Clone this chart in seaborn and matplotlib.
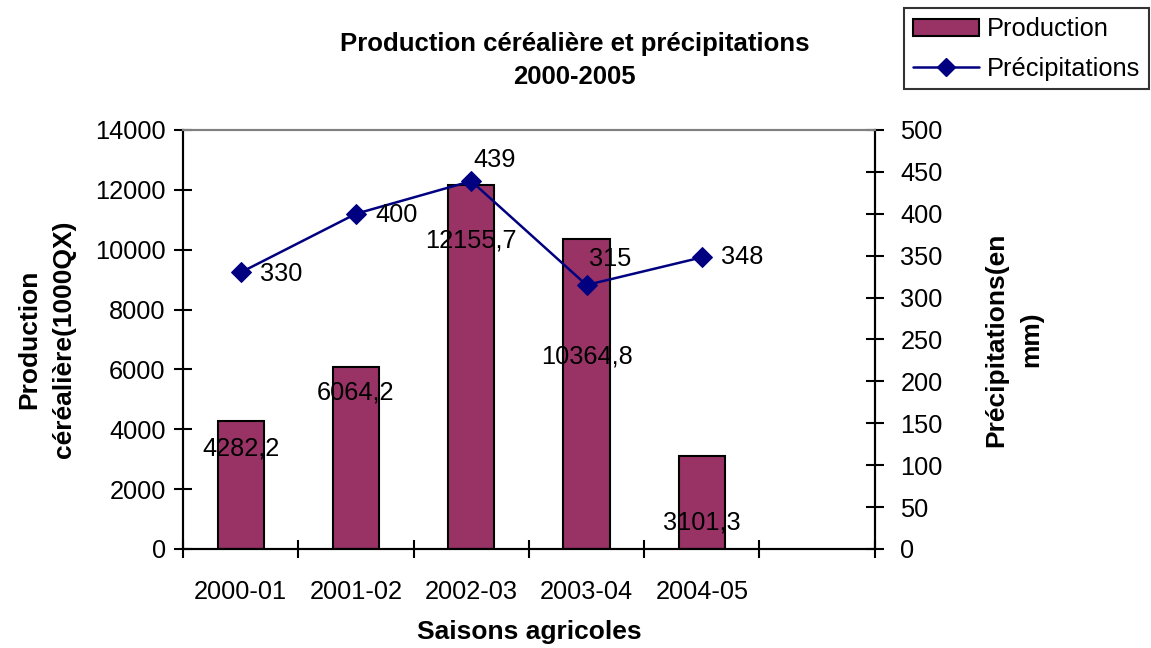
import numpy as np
import pandas as pd
import seaborn as sns
import matplotlib.pyplot as plt
from matplotlib.patches import Patch
from matplotlib.lines import Line2D

seasons = ["2000-01", "2001-02", "2002-03", "2003-04", "2004-05"]
production = [4282.2, 6064.2, 12155.7, 10364.8, 3101.3]
precipitations = [330, 400, 439, 315, 348]
production_labels = ["4282,2", "6064,2", "12155,7", "10364,8", "3101,3"]
precip_labels = ["330", "400", "439", "315", "348"]

BAR_COLOR = "#993366"
LINE_COLOR = "#000080"

sns.set_theme(style="white")
plt.rcParams['font.family'] = ['Liberation Sans', 'DejaVu Sans']
plt.rcParams['text.color'] = 'black'
plt.rcParams['axes.labelcolor'] = 'black'
plt.rcParams['xtick.color'] = 'black'
plt.rcParams['ytick.color'] = 'black'

FS = 18.3
BFS = 19

df = pd.DataFrame({"season": seasons, "production": production,
                   "precip": precipitations, "pos": np.arange(len(seasons))})

fig = plt.figure(figsize=(11.51, 6.48), dpi=100)
ax1 = fig.add_axes([0.159, 0.1528, 0.601, 0.6466])
ax2 = ax1.twinx()

sns.barplot(data=df, x="pos", y="production", ax=ax1, native_scale=True,
            color=BAR_COLOR, saturation=1, width=0.4,
            edgecolor="black", linewidth=1.5)
sns.lineplot(data=df, x="pos", y="precip", ax=ax2, color=LINE_COLOR,
             linewidth=1.8, marker="D", markersize=10,
             markeredgecolor=LINE_COLOR)

ax1.set_xlim(-0.5, 5.5)
ax1.set_ylim(0, 14000)
ax2.set_ylim(0, 500)
ax1.set_yticks(np.arange(0, 14001, 2000))
ax2.set_yticks(np.arange(0, 501, 50))

# category boundary ticks + labels on centers
ax1.set_xticks(np.arange(-0.5, 5.6, 1.0))
ax1.set_xticklabels([])
ax1.set_xticks(np.arange(len(seasons)), minor=True)
ax1.set_xticklabels(seasons, minor=True)
ax1.tick_params(axis="x", which="minor", length=0, pad=22, labelsize=FS)
ax1.tick_params(axis="x", which="major", direction="inout", length=13,
                width=1.5, color="black", bottom=True)
ax1.tick_params(axis="y", direction="inout", length=13, width=1.5,
                color="black", left=True, labelsize=FS, pad=6)
ax2.tick_params(axis="y", direction="inout", length=13, width=1.5,
                color="black", right=True, labelsize=FS, pad=12)

for ax in (ax1, ax2):
    for side in ("left", "right", "bottom"):
        ax.spines[side].set_color("black")
        ax.spines[side].set_linewidth(1.5)
    ax.spines["top"].set_color("#808080")
    ax.spines["top"].set_linewidth(1.5)
    ax.grid(False)

ax1.set_xlabel("Saisons agricoles", fontsize=BFS, fontweight="bold", labelpad=12)
ax1.set_ylabel("Production\ncéréalière(1000QX)", fontsize=BFS,
               fontweight="bold", labelpad=14, linespacing=1.55)
ax2.set_ylabel("Précipitations(en\nmm)", fontsize=BFS, fontweight="bold",
               labelpad=30, linespacing=1.55)

# data labels (offsets in points, as Excel placed them)
prod_offsets = [-20, -18, -40, -85, -48]
for i, (v, lab) in enumerate(zip(production, production_labels)):
    ax1.annotate(lab, (i, v), xytext=(0, prod_offsets[i]),
                 textcoords="offset points", ha="center", va="center",
                 fontsize=FS, color="black")
prec_offsets = [(29, -1), (29, -1), (17, 15), (17, 19), (29, 0)]
for i, (v, lab) in enumerate(zip(precipitations, precip_labels)):
    ax2.annotate(lab, (i, v), xytext=prec_offsets[i],
                 textcoords="offset points", ha="center", va="center",
                 fontsize=FS, color="black")

fig.text(0.4995, 0.907, "Production céréalière et précipitations\n2000-2005",
         ha="center", va="center", fontsize=18.5, fontweight="bold",
         linespacing=1.5)

handles = [Patch(facecolor=BAR_COLOR, edgecolor="black", linewidth=1.5),
           Line2D([], [], color=LINE_COLOR, linewidth=1.8, marker="D",
                  markersize=9)]
leg = fig.legend(handles, ["Production", "Précipitations"],
                 loc="upper right", bbox_to_anchor=(0.998, 0.987),
                 fontsize=FS, frameon=True, fancybox=False,
                 borderpad=0.35, handlelength=2.6, handletextpad=0.3,
                 labelspacing=0.6, borderaxespad=0)
leg.get_frame().set_edgecolor("black")
leg.get_frame().set_linewidth(1.5)

fig.savefig("out.png", dpi=100)
